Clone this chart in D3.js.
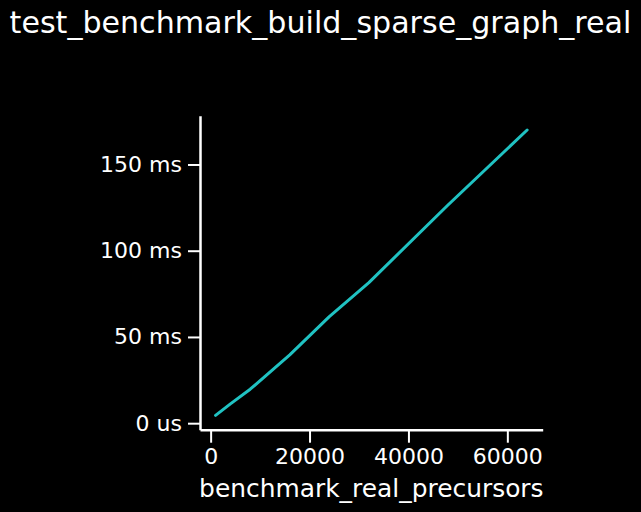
<!DOCTYPE html>
<html lang="en">
<head>
<meta charset="utf-8">
<title>test_benchmark_build_sparse_graph_real</title>
<script src="https://d3js.org/d3.v7.min.js"></script>
<style>
  body { margin: 0; background: #000; }
  svg { display: block; }
  text { font-family: "DejaVu Sans", sans-serif; fill: #fff; }
</style>
</head>
<body>
<script>
// data
var precursors = [1000, 4000, 8000, 16000, 24000, 32000, 48000, 64000];
var timeMs = [4.5, 11.2, 19.7, 39.6, 61.8, 81.5, 126.5, 170.0];
var xTicks = [0, 20000, 40000, 60000];
var yTicks = [0, 50, 100, 150];
var yTickLabels = ["0 us", "50 ms", "100 ms", "150 ms"];

var w = 641, h = 512;
var plotLeft = 200, plotRight = 542.7, plotTop = 115.7, plotBottom = 429.7;

var svg = d3.select("body").append("svg")
  .attr("width", w).attr("height", h);

svg.append("rect").attr("width", w).attr("height", h).attr("fill", "#000");

// 5% margins like matplotlib
function padded(ext) {
  var m = (ext[1] - ext[0]) * 0.05;
  return [ext[0] - m, ext[1] + m];
}

var xScale = d3.scaleLinear().domain(padded(d3.extent(precursors))).range([plotLeft, plotRight]);
var yScale = d3.scaleLinear().domain(padded(d3.extent(timeMs))).range([plotBottom, plotTop]);

// X axis
var xAxis = d3.axisBottom(xScale).tickValues(xTicks).tickFormat(d3.format("d"))
  .tickSize(13).tickPadding(6).tickSizeOuter(0);
var gx = svg.append("g").attr("transform", "translate(0," + plotBottom + ")").call(xAxis);
gx.select(".domain").attr("stroke", "#fff").attr("stroke-width", 2.5);
gx.selectAll(".tick line").attr("stroke", "#fff").attr("stroke-width", 2);
gx.selectAll(".tick text").attr("font-size", "22px").attr("fill", "#fff");

// Y axis
var yAxis = d3.axisLeft(yScale).tickValues(yTicks)
  .tickFormat(function(d, i) { return yTickLabels[i]; })
  .tickSize(12).tickPadding(6).tickSizeOuter(0);
var gy = svg.append("g").attr("transform", "translate(" + plotLeft + ",0)").call(yAxis);
gy.select(".domain").attr("stroke", "#fff").attr("stroke-width", 2.5);
gy.selectAll(".tick line").attr("stroke", "#fff").attr("stroke-width", 2);
gy.selectAll(".tick text").attr("font-size", "22px").attr("fill", "#fff");

// line
var line = d3.line()
  .x(function(d, i) { return xScale(precursors[i]); })
  .y(function(d) { return yScale(d); });

svg.append("path")
  .datum(timeMs)
  .attr("d", line)
  .attr("fill", "none")
  .attr("stroke", "#20c2c2")
  .attr("stroke-width", 3)
  .attr("stroke-linecap", "round")
  .attr("stroke-linejoin", "round");

// x label
svg.append("text")
  .attr("x", (plotLeft + plotRight) / 2)
  .attr("y", 497)
  .attr("text-anchor", "middle")
  .attr("font-size", "24.9px")
  .text("benchmark_real_precursors");

// title
svg.append("text")
  .attr("x", 320.5)
  .attr("y", 33)
  .attr("text-anchor", "middle")
  .attr("font-size", "30.1px")
  .text("test_benchmark_build_sparse_graph_real");
</script>
</body>
</html>
